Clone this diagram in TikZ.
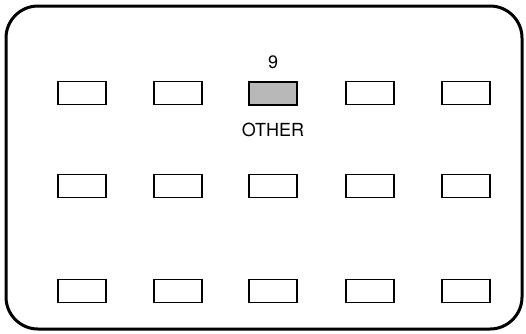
\documentclass[tikz,border=0pt]{standalone}
\usepackage{fontspec}
\setmainfont{TeX Gyre Heros}
\usetikzlibrary{positioning}
\definecolor{keyshade}{HTML}{B8B8B8}

\begin{document}
\begin{tikzpicture}[x=1pt, y=-1pt,
    keybox/.style={draw, line width=1.6pt, minimum width=48pt, minimum height=23pt, inner sep=0pt},
    keylabel/.style={font=\fontsize{18}{20}\selectfont, inner sep=3pt},
    hl-1-3/.style={fill=keyshade, line width=2pt}]
  \useasboundingbox (0,0) rectangle (526,333);

  % Panel outline
  \draw[line width=3pt, rounded corners=32pt] (6,6) rectangle (522,329);

  % Keys (row j, column i)
  \foreach \col [count=\i] in {82,178,273,370,466} {
    \foreach \row [count=\j] in {93,186,291} {
      \node[keybox, hl-\j-\i/.try] (key-\j-\i) at (\col,\row) {};
    }
  }

  % Labels of the shaded key
  \node[keylabel, above=9pt of key-1-3] (num) {9};
  \node[keylabel, below=14pt of key-1-3] (other) {OTHER};
\end{tikzpicture}
\end{document}
